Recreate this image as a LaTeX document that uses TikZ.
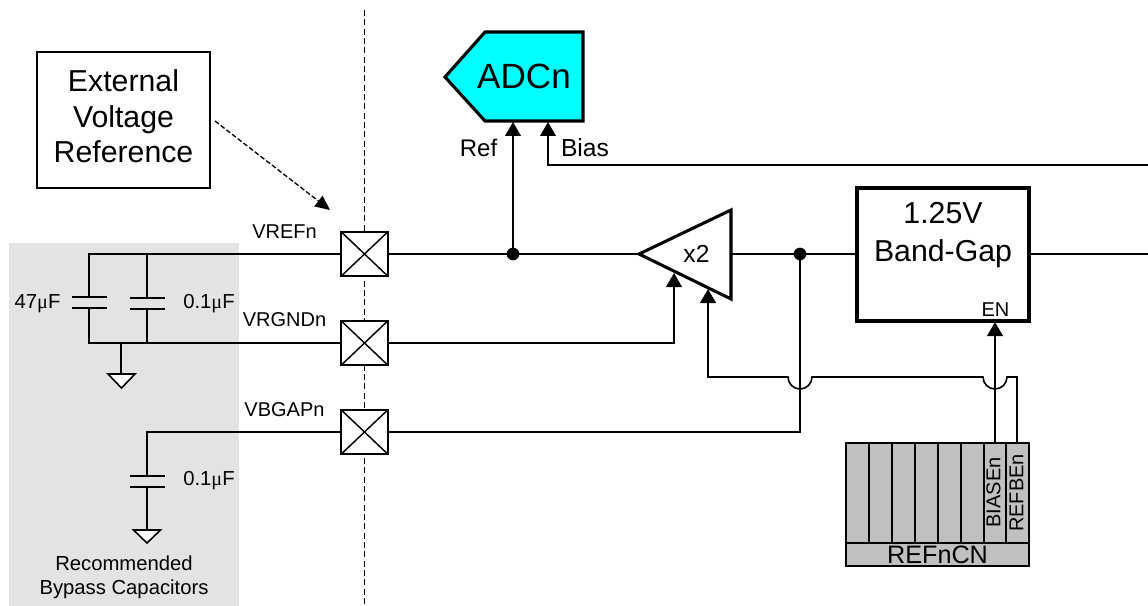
\documentclass[tikz,border=0pt]{standalone}
\usepackage{fontspec}
\setmainfont{Liberation Sans}
\newfontfamily\greekf{Liberation Serif}
\usetikzlibrary{arrows.meta,calc}
\newcommand{\fs}[2]{\fontsize{#1}{#2}\selectfont}
\newcommand{\uF}{{\greekf μ}F}
\definecolor{adccyan}{RGB}{0,255,255}
\definecolor{bypass}{RGB}{227,227,227}
\definecolor{reggray}{RGB}{192,192,192}
\tikzset{
 wire/.style={line width=1.2pt,black},
 arrowwire/.style={wire,-{Triangle[length=10.5pt,width=11.8pt]}},
 thick box/.style={draw=black,line width=2.3pt,inner sep=0pt,outer sep=0pt},
 padbox/.style={draw=black,line width=1.3pt,fill=white,inner sep=0pt,outer sep=0pt,minimum width=35.25pt,minimum height=33.5pt},
 dotnode/.style={circle,fill=black,inner sep=0pt,minimum size=9.5pt},
 lab/.style={inner sep=0pt,outer sep=0pt,text=black},
 regcell/.style={draw=black,line width=1.1pt,fill=reggray,inner sep=0pt,outer sep=0pt},
 gnd/.style={wire,fill=white,line join=miter},
}
\begin{document}
\begin{tikzpicture}[x=0.75pt,y=-0.75pt]
\useasboundingbox (0,0) rectangle (1148,606);
\fill[bypass] (9,243) rectangle (239,606);
\draw[black,line width=0.65pt,dash pattern=on 4.5pt off 2.5pt] (364,10) -- (364,606);
% external
\node[draw=black,line width=1.2pt,inner sep=0,outer sep=0,minimum width=129.75pt,minimum height=102pt] (ext) at (123.5,120) {};
\node[lab,align=center,font=\fs{22.7}{26.6}] (extt) at (123.5,116.5) {External\\Voltage\\Reference};
% pads
\node[padbox] (p1) at (364.5,254) {};
\node[padbox] (p2) at (364.5,343) {};
\node[padbox] (p3) at (364.5,432) {};
\foreach \p in {p1,p2,p3}{
 \draw[line width=1.1pt,black] (\p.north west) -- (\p.south east) (\p.north east) -- (\p.south west);
}
\coordinate (dstart) at (215,121);
\coordinate (dtip) at (330,210);
\draw[line width=1pt,dash pattern=on 3.6pt off 1.8pt,-{Triangle[length=11pt,width=10pt]}] (dstart) -- (dtip);
% ADC
\draw[thick box,fill=adccyan,line join=miter] (445,77) -- (485,32) -- (583,32) -- (583,121) -- (485,121) -- cycle;
\node[lab,font=\fs{26.3}{30}] (adc) at (524,76) {ADCn};
\coordinate (adcR) at (513,122);
\coordinate (adcB) at (548,122);
\node[lab,font=\fs{18}{20}] (ref) at (478.5,148) {Ref};
\node[lab,font=\fs{18.5}{20}] (bias) at (585,148) {Bias};
% amp
\draw[thick box,line join=miter] (639,254) coordinate (ampT) -- (731,210) -- (731,299) -- cycle;
\node[lab,font=\fs{18.5}{20}] (x2) at (696.5,254) {x2};
\coordinate (ampR) at (731,254);
\coordinate (ampA) at (674,273);
\coordinate (ampB) at (708,289);
% bandgap
\node[thick box,minimum width=129pt,minimum height=99.75pt] (bg) at (943,254.5) {};
\node[lab,align=center,font=\fs{22.7}{28}] (bgt) at (943,235) {1.25V\\Band-Gap};
\node[lab,font=\fs{15}{16}] (en) at (995.5,310) {EN};
\coordinate (enp) at (995,322);
% register
\path[regcell] (846,443) rectangle (1029,566);
\foreach \a/\b in {846/869,869/892,892/915,915/938,938/961,961/984,984/1006,1006/1029}{
 \draw[regcell] (\a,443) rectangle (\b,543);
}
\node[regcell,minimum width=137.25pt,minimum height=17.25pt,font=\fs{18.9}{20}] (reg) at (937.5,554.5) {REFnCN};
\node[lab,rotate=90,font=\fs{15}{16}] (bi) at (993.5,492.5) {BIASEn};
\node[lab,rotate=90,font=\fs{15}{16}] (rb) at (1016.5,493) {REFBEn};
\coordinate (bit) at (995,443);
\coordinate (rbt) at (1017,443);
% wires
\draw[wire] (p1.east) -- (ampT);
\node[dotnode] (d1) at (513,254) {};
\node[dotnode] (d2) at (800,254) {};
\draw[arrowwire] (d1.center) -- (adcR);
\coordinate (be) at (1148,165);
\draw[arrowwire] (be) -- (548,165) -- (adcB);
\draw[wire] (ampR) -- (ampR -| bg.west);
\draw[wire] (ampR -| bg.east) -- (1148,254);
\draw[arrowwire] (p2.east) -- (674,343) -- (ampA);
\draw[wire] (p3.east) -- (800,432) -- (d2.center);
\draw[arrowwire] (bit) -- (enp);
\draw[arrowwire] (rbt) -- (1017,377) -- (1007,377) arc[start angle=0,end angle=180,radius=12] -- (812,377) arc[start angle=0,end angle=180,radius=12] -- (708,377) -- (ampB);
% labels
\node[lab,font=\fs{15}{16}] (l1) at (284.5,232) {VREFn};
\node[lab,font=\fs{15}{16}] (l2) at (284.5,320) {VRGNDn};
\node[lab,font=\fs{15}{16}] (l3) at (284.5,410) {VBGAPn};
% external side: capacitors
\coordinate (c1a) at (89,297); \coordinate (c1b) at (89,308);
\coordinate (c2a) at (147,298); \coordinate (c2b) at (147,309);
\coordinate (c3a) at (147,476); \coordinate (c3b) at (147,487);
\draw[wire] (p1.west) -- (89,254) -- (c1a);
\draw[wire] (147,254) -- (c2a);
\draw[wire] (c1b) -- (89,343) -- (p2.west);
\draw[wire] (c2b) -- (147,343);
\draw[wire] (p3.west) -- (147,432) -- (c3a);
\draw[wire] (72,297) -- (107,297) (72,308) -- (107,308);
\draw[wire] (130,298) -- (165,298) (130,309) -- (165,309);
\draw[wire] (130,476) -- (165,476) (130,487) -- (165,487);
\draw[wire] (121,343) -- (121,374);
\draw[gnd] (108,374) -- (135,374) -- (121.5,388) -- cycle;
\draw[wire] (c3b) -- (147,530);
\draw[gnd] (133.5,530) -- (160.5,530) -- (147,543) -- cycle;
\node[lab,font=\fs{15.2}{16}] (v1) at (37.5,304) {47\uF};
\node[lab,font=\fs{15.2}{16}] (v2) at (209,304) {0.1\uF};
\node[lab,font=\fs{15.2}{16}] (v3) at (209,481) {0.1\uF};
\node[lab,align=center,font=\fs{15.2}{17.8}] (rec) at (124,577) {Recommended\\Bypass Capacitors};
\end{tikzpicture}
\end{document}
